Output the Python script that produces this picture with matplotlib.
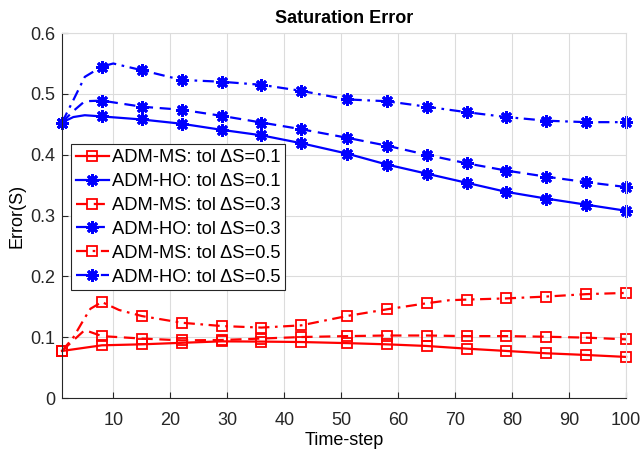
import numpy as np
import matplotlib
matplotlib.use("Agg")
import matplotlib.pyplot as plt

'''
Data (read off the reference):
'''
marker_steps = [1, 8, 15, 22, 29, 36, 43, 51, 58, 65, 72, 79, 86, 93, 100]

ms_01_x = [1, 8, 15, 22, 29, 36, 43, 51, 58, 65, 72, 79, 86, 93, 100]
ms_01_y = [0.0776, 0.0869, 0.0885, 0.091, 0.0934, 0.093, 0.0923, 0.0905,
           0.0885, 0.0858, 0.0814, 0.0776, 0.0738, 0.071, 0.0678]

ho_01_x = [1, 3, 5, 8, 15, 22, 29, 36, 43, 51, 58, 65, 72, 79, 86, 93, 100]
ho_01_y = [0.453, 0.462, 0.465, 0.463, 0.458, 0.451, 0.441, 0.432, 0.419,
           0.402, 0.384, 0.369, 0.354, 0.339, 0.328, 0.318, 0.308]

ms_03_x = [1, 3, 5, 8, 15, 22, 29, 36, 43, 51, 58, 65, 72, 79, 86, 93, 100]
ms_03_y = [0.0776, 0.095, 0.112, 0.102, 0.098, 0.095, 0.0956, 0.098, 0.1005,
           0.102, 0.103, 0.103, 0.102, 0.102, 0.101, 0.0995, 0.0967]

ho_03_x = [1, 3, 5, 8, 15, 22, 29, 36, 43, 51, 58, 65, 72, 79, 86, 93, 100]
ho_03_y = [0.453, 0.472, 0.488, 0.489, 0.479, 0.474, 0.464, 0.453, 0.442,
           0.428, 0.415, 0.400, 0.386, 0.374, 0.364, 0.355, 0.347]

ms_05_x = [1, 3, 5, 6, 8, 11, 15, 22, 29, 36, 43, 51, 58, 65, 69, 72, 79, 86, 93, 100]
ms_05_y = [0.0776, 0.100, 0.132, 0.147, 0.158, 0.145, 0.135, 0.124, 0.1186,
           0.116, 0.1197, 0.135, 0.146, 0.156, 0.161, 0.162, 0.164, 0.167,
           0.171, 0.173]

ho_05_x = [1, 3, 5, 8, 10, 15, 22, 29, 36, 43, 51, 58, 65, 72, 79, 86, 93, 100]
ho_05_y = [0.453, 0.49, 0.528, 0.545, 0.550, 0.539, 0.523, 0.520, 0.515,
           0.505, 0.491, 0.488, 0.479, 0.470, 0.462, 0.456, 0.4536, 0.4536]

labels = ["ADM-MS: tol \u0394S=0.1", "ADM-HO: tol \u0394S=0.1",
          "ADM-MS: tol \u0394S=0.3", "ADM-HO: tol \u0394S=0.3",
          "ADM-MS: tol \u0394S=0.5", "ADM-HO: tol \u0394S=0.5"]

'''
Setup:
'''
plt.rcParams['font.family'] = ['Liberation Sans', 'DejaVu Sans']
fig = plt.figure(figsize=(6.41, 4.53), dpi=100)
ax = fig.add_axes([0.0967, 0.121, 0.88, 0.806])

dash = (0, (5, 3))
dashdot = (0, (5, 2.5, 1.2, 2.5))
series = [
    (ms_01_x, ms_01_y, 'red', '-', 's'),
    (ho_01_x, ho_01_y, 'blue', '-', (8, 2, 0)),
    (ms_03_x, ms_03_y, 'red', dash, 's'),
    (ho_03_x, ho_03_y, 'blue', dash, (8, 2, 0)),
    (ms_05_x, ms_05_y, 'red', dashdot, 's'),
    (ho_05_x, ho_05_y, 'blue', dashdot, (8, 2, 0)),
]

for (xs, ys, col, ls, mk), lab in zip(series, labels):
    idx = [i for i, xv in enumerate(xs) if xv in marker_steps]
    if mk == 's':
        ax.plot(xs, ys, color=col, linestyle=ls, linewidth=1.6, marker=mk,
                markersize=7, markerfacecolor='none', markeredgewidth=1.3,
                markevery=idx, label=lab, clip_on=False)
    else:
        ax.plot(xs, ys, color=col, linestyle=ls, linewidth=1.6, marker=mk,
                markersize=9, markeredgewidth=2.0, markevery=idx, label=lab,
                clip_on=False)

'''
Axes styling:
'''
ax.set_xlim(1, 100)
ax.set_ylim(0, 0.6)
ax.set_xticks(np.arange(10, 101, 10))
ax.set_yticks(np.arange(0, 0.61, 0.1))
ax.set_yticklabels(["0", "0.1", "0.2", "0.3", "0.4", "0.5", "0.6"])
ax.grid(True, color='#dcdcdc', linewidth=0.8)
ax.set_axisbelow(True)
for s in ['top', 'right']:
    ax.spines[s].set_color('#dcdcdc')
for s in ['left', 'bottom']:
    ax.spines[s].set_color('#262626')
ax.tick_params(direction='in', labelsize=13, length=4, colors='#262626',
               top=False, right=False)
ax.tick_params(axis='x', pad=10)
ax.tick_params(axis='y', pad=5)

ax.set_title("Saturation Error", fontsize=13, fontweight='bold', pad=7)
ax.set_xlabel("Time-step", fontsize=13, labelpad=2)
ax.set_ylabel("Error(S)", fontsize=13, labelpad=3)

leg = ax.legend(loc='upper left', bbox_to_anchor=(0.016, 0.695), fontsize=13.2,
                fancybox=False, framealpha=1, edgecolor='#262626',
                borderpad=0.25, labelspacing=0.38, handlelength=1.8,
                handletextpad=0.2, borderaxespad=0)
leg.get_frame().set_linewidth(0.8)

fig.savefig("out.png", dpi=100)
